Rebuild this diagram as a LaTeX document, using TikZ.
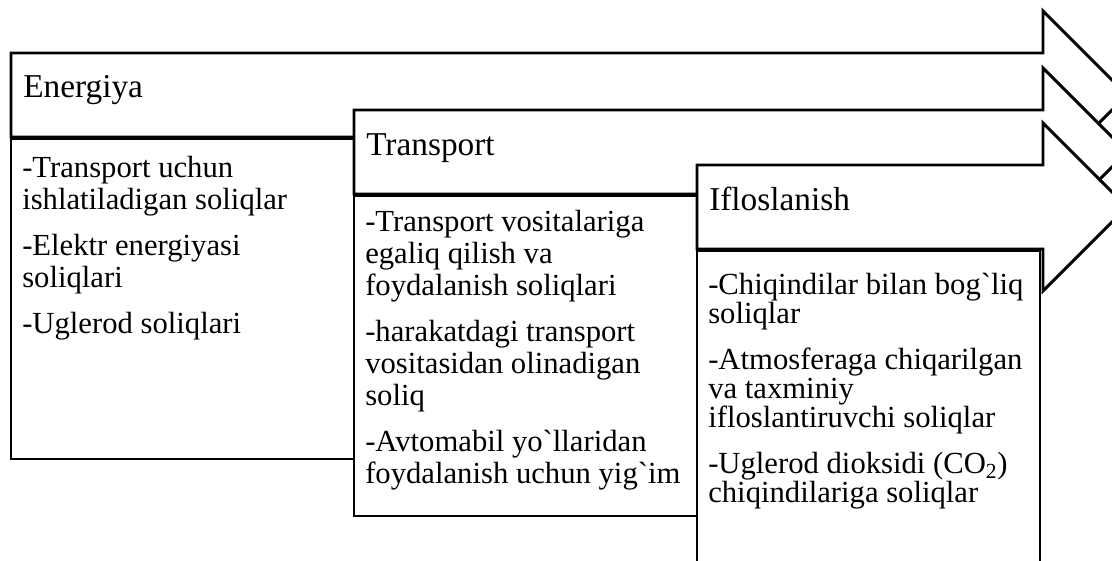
\documentclass[tikz,border=0pt]{standalone}
\usepackage{fontspec}
\setmainfont{Liberation Serif}
\usetikzlibrary{positioning}
\newcommand{\shaftheight}{84}
\newcommand{\headextend}{42}
\newcommand{\headbase}{1043}
\newcommand{\itemgap}{10.5pt}
\tikzset{
    bigarrow/.style={draw, fill=white, line width=2.2pt, line join=miter},
    heading/.style={anchor=base west, inner sep=0pt, font=\fontsize{25}{30}\selectfont},
    listbox/.style={draw, fill=white, line width=1.5pt, anchor=north west, inner sep=0pt,
        outer sep=0pt, minimum width=257.25pt, minimum height=240pt},
    listtext/.style={align=left, inner sep=0pt, font=\fontsize{23}{24}\selectfont},
    listtight/.style={listtext, font=\fontsize{23}{21.75}\selectfont},
}
\begin{document}
\begin{tikzpicture}[x=0.75pt, y=-0.75pt]
    \useasboundingbox (0,0) rectangle (1112,560);
    % arrows, header titles and list boxes, left to right
    \foreach \x/\y/\name/\title in {11/53/energiya/Energiya, 354/110/transport/Transport, 697/165/ifloslanish/Ifloslanish} {
        \draw[bigarrow] (\x,\y) -- (\headbase,\y) -- (\headbase,\y-\headextend)
            -- (\headbase+\headextend+\shaftheight/2,\y+\shaftheight/2)
            -- (\headbase,\y+\shaftheight+\headextend) -- (\headbase,\y+\shaftheight)
            -- (\x,\y+\shaftheight) -- cycle;
        \node[heading] (\name) at (\x+12,\y+45) {\title};
        \node[listbox] (\name box) at (\x,\y+\shaftheight+2) {};
    }
    \node[listtext, below right=12.75pt and 8.25pt of energiyabox.north west] (energiyalist)
        {-Transport uchun\\ ishlatiladigan soliqlar\\[\itemgap]
         -Elektr energiyasi\\ soliqlari\\[\itemgap]
         -Uglerod soliqlari};
    \node[listtext, below right=10.5pt and 8.25pt of transportbox.north west] (transportlist)
        {-Transport vositalariga\\ egaliq qilish va\\ foydalanish soliqlari\\[\itemgap]
         -harakatdagi transport\\ vositasidan olinadigan\\ soliq\\[\itemgap]
         -Avtomabil yo\textasciigrave llaridan\\ foydalanish uchun yig\textasciigrave im};
    \node[listtight, below right=16.5pt and 8.25pt of ifloslanishbox.north west] (ifloslanishlist)
        {-Chiqindilar bilan bog\textasciigrave liq\\ soliqlar\\[12.75pt]
         -Atmosferaga chiqarilgan\\ va taxminiy\\ ifloslantiruvchi soliqlar\\[12.75pt]
         -Uglerod dioksidi (CO\textsubscript{2})\\ chiqindilariga soliqlar};
\end{tikzpicture}
\end{document}
